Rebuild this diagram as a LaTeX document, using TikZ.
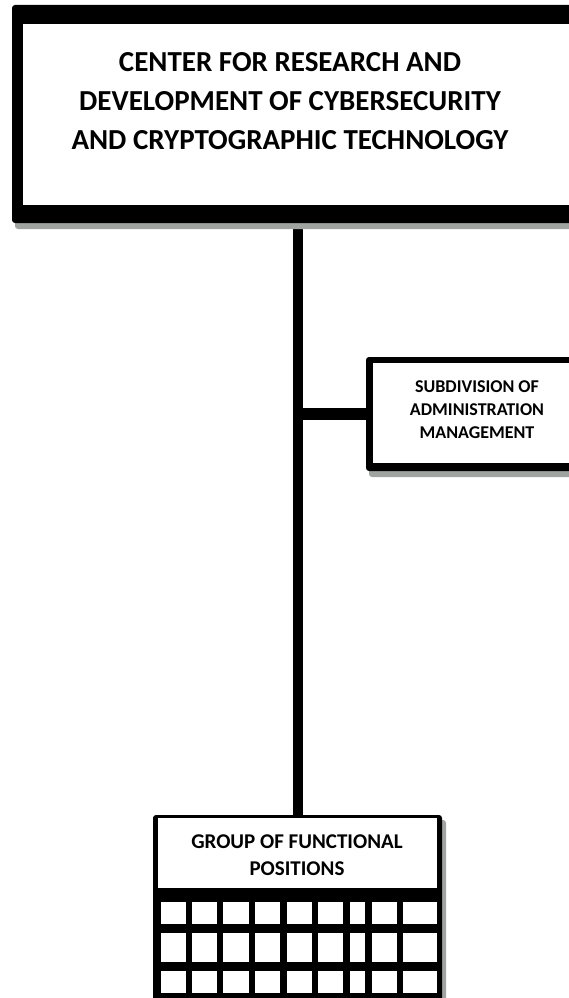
\documentclass[tikz,border=0pt]{standalone}
\usepackage{fontspec}
\setmainfont{Carlito}
\usetikzlibrary{positioning,shadows,backgrounds}
\definecolor{shadowgray}{RGB}{160,164,160}

\begin{document}
\begin{tikzpicture}[x=1pt,y=-1pt]
	\tikzstyle{every node}+=[inner sep=0pt, font=\bfseries]
	\tikzstyle{outerbox}=[fill=black, rounded corners=3pt, drop shadow={shadow xshift=3pt, shadow yshift=-6pt, fill=shadowgray, opacity=1}]
	\tikzstyle{innerbox}=[fill=white]
	\tikzstyle{link}=[line width=10pt]
	\tikzstyle{linkshade}=[line width=10pt, draw=shadowgray, xshift=3pt, yshift=-5pt]
	\useasboundingbox (0,0) rectangle (568,998);
	\node [outerbox, minimum width=580pt, minimum height=218pt] (ctr) at (302,114) {};
	\node [innerbox, minimum width=557pt, minimum height=181pt] (ctrin) at (301.5,114.5) {};
	\node [align=center, font=\fontsize{29}{39}\selectfont\bfseries] (ctrtxt) at (290,101) {CENTER FOR RESEARCH AND\\DEVELOPMENT OF CYBERSECURITY\\AND CRYPTOGRAPHIC TECHNOLOGY};
	\node [outerbox, minimum width=224pt, minimum height=114pt] (sub) at (478,414) {};
	\node [innerbox, minimum width=210pt, minimum height=100pt] (subin) at (478,413) {};
	\node [align=center, font=\fontsize{18}{23}\selectfont\bfseries] (subtxt) at (477,410) {SUBDIVISION OF\\ADMINISTRATION\\MANAGEMENT};
	\node [outerbox, drop shadow={shadow xshift=4pt, shadow yshift=-5pt, fill=shadowgray, opacity=1}, minimum width=289pt, minimum height=195pt] (grp) at (297.5,912.5) {};
	\node [innerbox, minimum width=279pt, minimum height=70pt] (grpin) at (297.5,853) {};
	\node [align=center, font=\fontsize{21}{27}\selectfont\bfseries] (grptxt) at (297,855) {GROUP OF FUNCTIONAL\\POSITIONS};
	\foreach \xa/\xb in {161/186,192/217,223/249,255/280,287/312,318/343,350/365,372/397,403/437}
		\foreach \ya/\yb in {902/924,933/962,971/993}
			\fill [white] (\xa,\ya) rectangle (\xb,\yb);
	\begin{pgfonlayer}{background}
		\fill [white] (0,0) rectangle (568,998);
		\draw [linkshade] (grp.north) -- (grp.north |- ctr.south);
		\draw [linkshade, line width=12pt] (sub.west) -- (sub.west -| grp.north);
		\draw [link] (grp.north) -- (grp.north |- ctr.south);
		\draw [link, line width=12pt] (sub.west) -- (sub.west -| grp.north);
	\end{pgfonlayer}
\end{tikzpicture}
\end{document}
